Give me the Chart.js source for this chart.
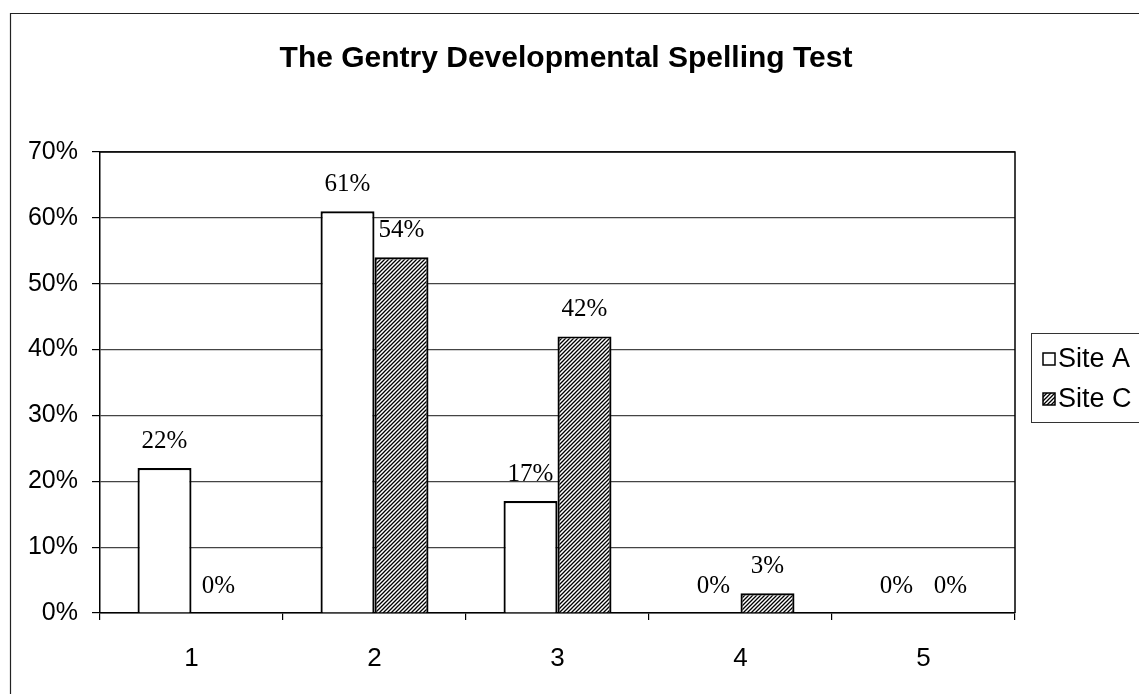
<!DOCTYPE html>
<html>
<head>
<meta charset="utf-8">
<script src="https://cdn.jsdelivr.net/npm/chart.js@4/dist/chart.umd.min.js"></script>
<style>
    html, body { margin: 0; padding: 0; background: #fff; }
    #wrap { width: 1139px; height: 694px; position: relative; }
</style>
</head>
<body>
<div id="wrap"><canvas id="myChart" width="1139" height="694"></canvas></div>
<script>
//============================
//  Data
//============================
const categories = ['1', '2', '3', '4', '5'];
const siteA = [22, 61, 17, 0, 0];
const siteC = [0, 54, 42, 3, 0];
const seriesNames = ['Site A', 'Site C'];
const yTicks = [0, 10, 20, 30, 40, 50, 60, 70];
const chartTitle = 'The Gentry Developmental Spelling Test';

const sansFont = '"Liberation Sans", Arial, sans-serif';
const serifFont = '"Liberation Serif", "Times New Roman", serif';

// diagonal hatch for Site C
function makeHatch() {
    const c = document.createElement('canvas');
    c.width = 4;
    c.height = 4;
    const g = c.getContext('2d');
    g.fillStyle = '#fff';
    g.fillRect(0, 0, 4, 4);
    g.strokeStyle = '#000';
    g.lineWidth = 1.3;
    g.beginPath();
    g.moveTo(-1, 5); g.lineTo(5, -1);
    g.moveTo(-1, 1); g.lineTo(1, -1);
    g.moveTo(3, 5); g.lineTo(5, 3);
    g.stroke();
    return g.createPattern(c, 'repeat');
}
const hatch = makeHatch();
const fills = ['#ffffff', hatch];

//============================
//  Plugins
//============================
const frameBox = {
    id: 'frameBox',
    beforeDraw(chart) {
        const ctx = chart.ctx;
        ctx.save();
        ctx.strokeStyle = '#222';
        ctx.lineWidth = 1.2;
        ctx.beginPath();
        ctx.moveTo(10.5, chart.height);
        ctx.lineTo(10.5, 13.5);
        ctx.lineTo(chart.width, 13.5);
        ctx.stroke();

        // title
        ctx.font = 'bold 30px ' + sansFont;
        ctx.fillStyle = '#000';
        ctx.textAlign = 'center';
        ctx.textBaseline = 'alphabetic';
        ctx.fillText(chartTitle, 566, 67);
        ctx.restore();
    },
    afterDraw(chart) {
        const a = chart.chartArea;
        const ctx = chart.ctx;
        ctx.save();
        ctx.strokeStyle = '#000';
        ctx.lineWidth = 1.5;
        ctx.beginPath();
        ctx.moveTo(a.left, a.top);
        ctx.lineTo(a.right, a.top);
        ctx.lineTo(a.right, a.bottom);
        ctx.stroke();
        ctx.restore();
    }
};

const valueLabels = {
    id: 'valueLabels',
    afterDatasetsDraw(chart) {
        const ctx = chart.ctx;
        ctx.save();
        ctx.font = '25px ' + serifFont;
        ctx.fillStyle = '#000';
        ctx.textAlign = 'center';
        ctx.textBaseline = 'alphabetic';
        chart.data.datasets.forEach((ds, i) => {
            const meta = chart.getDatasetMeta(i);
            meta.data.forEach((bar, j) => {
                ctx.fillText(ds.data[j] + '%', bar.x, bar.y - 20);
            });
        });
        ctx.restore();
    }
};

// legend box on the right, drawn from dataset labels
const boxLegend = {
    id: 'boxLegend',
    afterDraw(chart) {
        const ctx = chart.ctx;
        const x = 1031, y = 333, w = 120, h = 89;
        ctx.save();
        ctx.strokeStyle = '#333';
        ctx.lineWidth = 1;
        ctx.strokeRect(x + 0.5, y + 0.5, w, h);
        ctx.font = '27px ' + sansFont;
        ctx.textBaseline = 'alphabetic';
        chart.data.datasets.forEach((ds, i) => {
            const base = y + 34 + i * 40;
            ctx.fillStyle = ds.backgroundColor;
            ctx.fillRect(x + 12, base - 14, 12, 12);
            ctx.strokeStyle = '#000';
            ctx.lineWidth = 1.5;
            ctx.strokeRect(x + 12, base - 14, 12, 12);
            ctx.fillStyle = '#000';
            ctx.fillText(ds.label, x + 27, base);
        });
        ctx.restore();
    }
};

//============================
//  Chart
//============================
const ctx = document.getElementById('myChart').getContext('2d');
const myChart = new Chart(ctx, {
    type: 'bar',
    data: {
        labels: categories,
        datasets: [siteA, siteC].map((vals, i) => ({
            label: seriesNames[i],
            data: vals,
            backgroundColor: fills[i],
            borderColor: '#000',
            borderWidth: 2.2,
            borderSkipped: 'bottom',
            categoryPercentage: 0.59,
            barPercentage: 1
        }))
    },
    options: {
        responsive: false,
        animation: false,
        events: [],
        layout: { padding: { left: 0, right: 124, top: 152, bottom: 0 } },
        plugins: {
            legend: { display: false },
            tooltip: { enabled: false },
            title: { display: false }
        },
        scales: {
            x: {
                afterFit: s => { s.height = 81; },
                grid: {
                    display: true,
                    drawOnChartArea: false,
                    drawTicks: true,
                    tickLength: 7,
                    color: '#000',
                    lineWidth: 1.2
                },
                border: { display: true, color: '#000', width: 1.5 },
                ticks: {
                    color: '#000',
                    padding: 23,
                    font: { family: sansFont, size: 26 }
                }
            },
            y: {
                min: 0,
                max: 70,
                afterFit: s => { s.width = 100; },
                afterBuildTicks: s => { s.ticks = yTicks.map(v => ({ value: v })); },
                grid: {
                    color: '#444',
                    lineWidth: 1.2,
                    tickLength: 8,
                    tickColor: '#000'
                },
                border: { display: true, color: '#000', width: 1.5 },
                ticks: {
                    color: '#000',
                    padding: 14,
                    font: { family: sansFont, size: 25 },
                    callback: v => v + '%'
                }
            }
        }
    },
    plugins: [frameBox, valueLabels, boxLegend]
});
</script>
</body>
</html>
